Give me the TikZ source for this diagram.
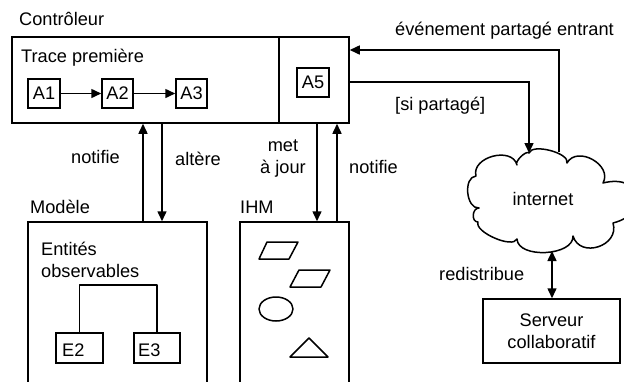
\documentclass[tikz,border=0pt]{standalone}
\usepackage{fontspec}
\setmainfont{Liberation Sans}
\usetikzlibrary{arrows.meta}
\tikzset{
  ln/.style={line width=1.5pt, line join=round},
  box/.style={draw, rectangle, line width=1.5pt, inner sep=0pt},
  lbl/.style={inner sep=0pt, anchor=base west},
  arr/.style={line width=1.5pt, -{Triangle[length=10pt,width=9pt]}},
  darr/.style={line width=1.5pt, {Triangle[length=10pt,width=9pt]}-{Triangle[length=10pt,width=9pt]}},
}
\begin{document}
\begin{tikzpicture}[x=1pt,y=-1pt,font=\fontsize{18.2}{22}\selectfont]
\clip (0,0) rectangle (624,381);
% controller
\node[box, minimum width=267pt, minimum height=86pt] (trace) at (145.5,80) {};
\node[box, minimum width=70pt, minimum height=86pt] (a5cell) at (314,80) {};
\node[lbl] (tcont) at (19,25) {Contrôleur};
\node[lbl] (ttrace) at (21,62) {Trace première};
\node[box, minimum width=32pt, minimum height=29pt] (A1) at (44,93.5) {A1};
\node[box, minimum width=31pt, minimum height=29pt] (A2) at (117.5,93.5) {A2};
\node[box, minimum width=31pt, minimum height=29pt] (A3) at (191.5,93.5) {A3};
\node[box, minimum width=32pt, minimum height=29pt] (A5) at (313,82.5) {A5};
\draw[arr] (A1) -- (A2);
\draw[arr] (A2) -- (A3);
% model
\node[box, minimum width=179pt, minimum height=178pt] (modele) at (117.5,311) {};
\node[lbl] (tmod) at (30,213) {Modèle};
\node[lbl, align=left] (tent) at (41,277) {Entités\\observables};
\node[box, minimum width=47pt, minimum height=30pt] (E2) at (79.5,348) {};
\node[box, minimum width=46pt, minimum height=30pt] (E3) at (157,348) {};
\node[lbl] (tE2) at (62,356) {E2};
\node[lbl] (tE3) at (138,356) {E3};
\coordinate (tree) at (0,285);
\draw[ln] (E2.north) -- (E2.north |- tree) -- (E3.north |- tree) -- (E3.north);
% IHM
\node[box, minimum width=109pt, minimum height=178pt] (ihm) at (294.5,311) {};
\node[lbl] (tihm) at (240,213) {IHM};
\draw[ln] (267,242) -- (298,242) -- (289,259) -- (259,259) -- cycle;
\draw[ln] (299,270) -- (330,270) -- (321,287) -- (290,287) -- cycle;
\draw[ln] (276,309) ellipse [x radius=17, y radius=12];
\draw[ln] (309,338) -- (328,357) -- (290,357) -- cycle;
% vertical connectors
\coordinate (xa) at (143,0);
\coordinate (xb) at (162,0);
\coordinate (xc) at (317,0);
\coordinate (xd) at (337,0);
\draw[arr] (modele.north -| xa) -- (trace.south -| xa);
\draw[arr] (trace.south -| xb) -- (modele.north -| xb);
\draw[arr] (a5cell.south -| xc) -- (ihm.north -| xc);
\draw[arr] (ihm.north -| xd) -- (a5cell.south -| xd);
\node[lbl] (tnot1) at (71,163) {notifie};
\node[lbl] (talt) at (175,165) {altère};
\node[inner sep=0pt, anchor=base, align=center] (tmaj) at (283,173) {met\\à jour};
\node[lbl] (tnot2) at (349,173) {notifie};
% cloud
\draw[ln] (529,153) .. controls (532,143) and (570,153) .. (567,163)
  .. controls (577,145) and (613,165) .. (603,183)
  .. controls (642,173) and (652,213) .. (613,223)
  .. controls (620,246) and (580,259) .. (573,236)
  .. controls (574,256) and (518,259) .. (517,239)
  .. controls (513,249) and (474,232) .. (478,222)
  .. controls (471,222) and (472,208) .. (479,208)
  .. controls (466,209) and (463,177) .. (476,176)
  .. controls (471,157) and (512,146) .. (517,165)
  .. controls (514,162) and (526,150) .. (529,153) -- cycle;
\node[inner sep=0pt, anchor=base] (internet) at (543,205) {internet};
\coordinate (cin) at (529,153);
\coordinate (cout) at (559,152);
\coordinate (cbot) at (552,251);
\coordinate (yo) at (0,82);
\coordinate (yi) at (0,50);
\draw[arr] (a5cell.east |- yo) -| (cin);
\draw[arr] (cout) |- (a5cell.east |- yi);
\node[lbl] (tevt) at (395,35) {événement partagé entrant};
\node[lbl] (tsi) at (395,110) {[si partagé]};
% server
\node[box, minimum width=137pt, minimum height=64pt, align=center] (serveur) at (551.5,331) {Serveur\\collaboratif};
\draw[darr] (cbot) -- (serveur.north -| cbot);
\node[lbl] (tred) at (439,280) {redistribue};
\end{tikzpicture}
\end{document}
